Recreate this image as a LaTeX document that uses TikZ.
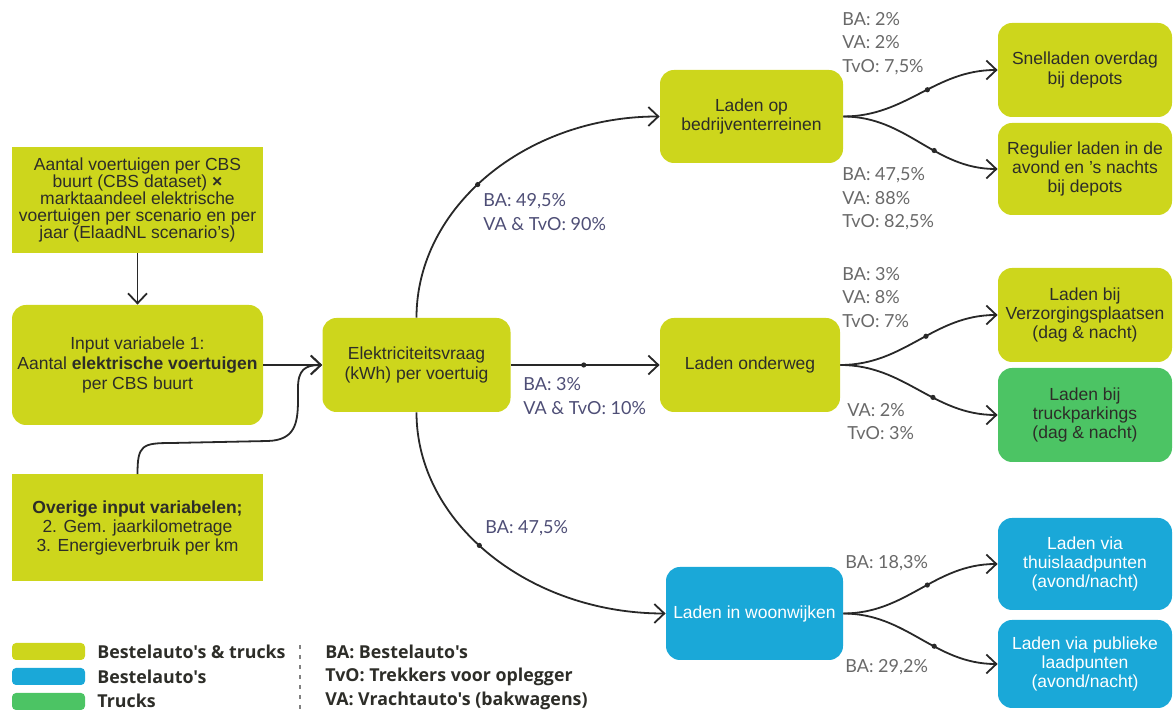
\documentclass[tikz,border=0pt]{standalone}
\usepackage{fontspec}
\setmainfont{Liberation Sans}
\newfontfamily\labfont{Lato}
\newfontfamily\legfont{Open Sans}
\usetikzlibrary{arrows.meta}
\newcommand{\apo}{\char"0027\relax}
\definecolor{ylw}{RGB}{205,214,28}
\definecolor{blu}{RGB}{26,168,216}
\definecolor{grn}{RGB}{76,196,100}
\definecolor{txt}{RGB}{45,45,40}
\definecolor{lin}{RGB}{40,40,40}
\definecolor{labgray}{RGB}{105,105,105}
\definecolor{labblue}{RGB}{78,78,118}
\tikzset{
  box/.style={fill=ylw, text=txt, align=center, inner sep=0pt,
    font=\fontsize{8.75}{9.7}\selectfont},
  rbox/.style={box, rounded corners=7pt},
  bluebox/.style={rbox, fill=blu, text=white},
  greenbox/.style={rbox, fill=grn},
  conn/.style={draw=lin, line width=0.9pt, -{Straight Barb[length=5pt,width=9.5pt]}},
  dot/.style={circle, fill=lin, inner sep=0pt, minimum size=2.6pt},
  lab/.style={anchor=west, inner sep=0pt, align=left, text=labgray,
    font=\labfont\fontsize{9}{11.8}\selectfont},
  labb/.style={lab, text=labblue},
  swatch/.style={rounded corners=2pt, minimum width=36.5pt, minimum height=8.5pt, inner sep=0pt},
  legtext/.style={anchor=west, inner sep=0pt, text=txt, font=\legfont\bfseries\fontsize{8.9}{11}\selectfont}
}
\begin{document}
\begin{tikzpicture}[x=0.5pt,y=-0.5pt]
\useasboundingbox (0,0) rectangle (1174,710);

% left column
\node[box, minimum width=125.5pt, minimum height=53pt, font=\fontsize{8.75}{8.6}\selectfont] (aantal) at (137.5,200)
  {Aantal voertuigen per CBS\\buurt (CBS dataset) \textbf{×}\\marktaandeel elektrische\\voertuigen per scenario en per\\jaar (ElaadNL scenario\apo s)};
\node[rbox, minimum width=125.5pt, minimum height=60pt, font=\fontsize{8.75}{10}\selectfont] (input) at (137.5,365)
  {Input variabele 1:\\Aantal \textbf{elektrische voertuigen}\\per CBS buurt};
\node[box, minimum width=125.5pt, minimum height=53.5pt] (over) at (137.5,528)
  {\textbf{Overige input variabelen;}\\2. Gem. jaarkilometrage\\3. Energieverbruik per km};

% centre
\node[rbox, minimum width=94pt, minimum height=47pt] (elek) at (416.5,365)
  {Elektriciteitsvraag\\(kWh) per voertuig};

% middle column
\node[rbox, minimum width=91.5pt, minimum height=46.5pt] (bed) at (751.5,116.5)
  {Laden op\\bedrijventerreinen};
\node[rbox, minimum width=90pt, minimum height=47pt] (onder) at (750,365)
  {Laden onderweg};
\node[bluebox, minimum width=88.5pt, minimum height=46.5pt] (woon) at (754.5,613.5)
  {Laden in woonwijken};

% right column
\node[rbox, minimum width=87pt, minimum height=47pt] (snel) at (1085,70)
  {Snelladen overdag\\bij depots};
\node[rbox, minimum width=87pt, minimum height=46pt] (regul) at (1085,169)
  {Regulier laden in de\\avond en \apo s nachts\\bij depots};
\node[rbox, minimum width=87pt, minimum height=47pt] (verz) at (1085,315)
  {Laden bij\\Verzorgingsplaatsen\\(dag \& nacht)};
\node[greenbox, minimum width=87pt, minimum height=47pt] (truck) at (1085,415)
  {Laden bij\\truckparkings\\(dag \& nacht)};
\node[bluebox, minimum width=87pt, minimum height=46pt] (thuis) at (1085,564)
  {Laden via\\thuislaadpunten\\(avond/nacht)};
\node[bluebox, minimum width=87pt, minimum height=44pt] (publ) at (1085,664)
  {Laden via publieke\\laadpunten\\(avond/nacht)};

% connectors
\draw[conn] (aantal) -- (input);
\draw[conn] (input.east) -- (elek.west);
\draw[conn] (over.north) .. controls (137.5,445) and (142,443) .. (172,443)
  -- (268,441) .. controls (294,440) and (298,425) .. (298,400)
  -- (298,388) .. controls (298,370) and (305,365) .. (elek.west);
\draw[conn] (elek.north) .. controls (416.5,207) and (526,116.5) .. node[dot,pos=0.46]{} (bed.west);
\draw[conn] (elek.east) -- node[dot,pos=0.49]{} (onder.west);
\draw[conn] (elek.south) .. controls (416.5,523) and (529,613.5) .. node[dot,pos=0.46]{} (woon.west);

\draw[conn] (bed.east) to[out=0,in=180] node[dot,pos=0.55]{} (snel.west);
\draw[conn] (bed.east) to[out=0,in=180] node[dot,pos=0.6]{} (regul.west);
\draw[conn] (onder.east) to[out=0,in=180] node[dot,pos=0.55]{} (verz.west);
\draw[conn] (onder.east) to[out=0,in=180] node[dot,pos=0.6]{} (truck.west);
\draw[conn] (woon.east) to[out=0,in=180] node[dot,pos=0.55]{} (thuis.west);
\draw[conn] (woon.east) to[out=0,in=180] node[dot,pos=0.6]{} (publ.west);

% labels
\node[lab] (l1) at (842,43.5) {BA: 2\%\\VA: 2\%\\TvO: 7,5\%};
\node[lab] (l2) at (842,199) {BA: 47,5\%\\VA: 88\%\\TvO: 82,5\%};
\node[labb] (l3) at (483,212) {BA: 49,5\%\\VA \& TvO: 90\%};
\node[labb] (l4) at (523,396) {BA: 3\%\\VA \& TvO: 10\%};
\node[labb] (l5) at (485,528) {BA: 47,5\%};
\node[lab] (l6) at (842,297.5) {BA: 3\%\\VA: 8\%\\TvO: 7\%};
\node[lab] (l7) at (847,421.5) {VA: 2\%\\TvO: 3\%};
\node[lab] (l8) at (845,563) {BA: 18,3\%};
\node[lab] (l9) at (845,667) {BA: 29,2\%};

% legend
\node[swatch, fill=ylw] (sw1) at (48.5,651.5) {};
\node[swatch, fill=blu] (sw2) at (48.5,676.5) {};
\node[swatch, fill=grn] (sw3) at (48.5,701.5) {};
\node[legtext] (t1) at (97,652) {Bestelauto\apo s \& trucks};
\node[legtext] (t2) at (97,677) {Bestelauto\apo s};
\node[legtext] (t3) at (97,701) {Trucks};
\coordinate (dtop) at (300,645);
\coordinate (dbot) at (300,710);
\draw[gray, line width=0.7pt, dash pattern=on 2pt off 3pt] (dtop) -- (dbot);
\node[legtext] (t4) at (325,652) {BA: Bestelauto\apo s};
\node[legtext] (t5) at (325,677) {TvO: Trekkers voor oplegger};
\node[legtext] (t6) at (325,701) {VA: Vrachtauto\apo s (bakwagens)};
\end{tikzpicture}
\end{document}
